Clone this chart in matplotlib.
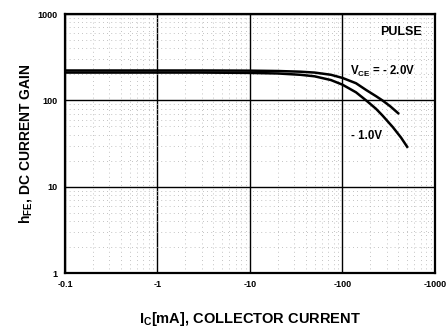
import matplotlib
matplotlib.use("Agg")
import matplotlib.pyplot as plt
import matplotlib.ticker as mticker

# ── data (|Ic| in mA, hFE) ────────────────────────────────────────────
ic_2v  = [0.1, 1, 3, 10, 20, 35, 50, 75, 100, 140, 180, 230, 270, 330, 400]
hfe_2v = [222, 222, 222, 221, 219, 215, 210, 198, 182, 158, 132, 112, 100, 85, 71]

ic_1v  = [0.1, 1, 3, 10, 20, 35, 50, 75, 100, 140, 180, 230, 270, 350, 430, 500]
hfe_1v = [210, 210, 210, 208, 205, 198, 190, 172, 152, 124, 100, 80, 67, 49, 37, 29]

xticks  = [0.1, 1, 10, 100, 1000]
xlabels = ["-0.1", "-1", "-10", "-100", "-1000"]
yticks  = [1, 10, 100, 1000]
ylabels = ["1", "10", "100", "1000"]

FONT = "Liberation Sans"
plt.rcParams["mathtext.fontset"] = "custom"
plt.rcParams["mathtext.rm"] = FONT + ":bold"
plt.rcParams["mathtext.bf"] = FONT + ":bold"

fig = plt.figure(figsize=(4.48, 3.27), dpi=100)
ax = fig.add_axes([0.145, 0.165, 0.826, 0.792])

ax.plot(ic_2v, hfe_2v, color="black", lw=1.8)
ax.plot(ic_1v, hfe_1v, color="black", lw=1.8)

ax.set_xscale("log")
ax.set_yscale("log")
ax.set_xlim(0.1, 1000)
ax.set_ylim(1, 1000)

ax.set_xticks(xticks)
ax.set_xticklabels(xlabels)
ax.set_yticks(yticks)
ax.set_yticklabels(ylabels)
ax.xaxis.set_minor_locator(mticker.LogLocator(base=10, subs=range(2, 10)))
ax.yaxis.set_minor_locator(mticker.LogLocator(base=10, subs=range(2, 10)))
ax.xaxis.set_minor_formatter(mticker.NullFormatter())
ax.yaxis.set_minor_formatter(mticker.NullFormatter())

ax.grid(which="major", color="black", lw=1.0)
ax.grid(which="minor", color="#b0b0b0", lw=0.6, linestyle=(0, (1, 4)))
ax.tick_params(which="both", length=0, pad=5)
for lab in ax.get_xticklabels() + ax.get_yticklabels():
    lab.set_fontfamily(FONT)
    lab.set_fontweight("bold")
    lab.set_fontsize(6.5)
for s in ax.spines.values():
    s.set_linewidth(1.6)

ax.text(0.965, 0.93, "PULSE", transform=ax.transAxes, ha="right", va="center",
        fontfamily=FONT, fontweight="bold", fontsize=9)
ax.text(122, 216, r"V$_{\mathregular{CE}}$ = - 2.0V", ha="left", va="center",
        fontfamily=FONT, fontweight="bold", fontsize=8.3)
ax.text(267, 39, "- 1.0V", ha="right", va="center",
        fontfamily=FONT, fontweight="bold", fontsize=8.3)

ax.set_xlabel(r"I$_{\mathregular{C}}$[mA], COLLECTOR CURRENT", fontfamily=FONT,
              fontweight="bold", fontsize=10.5, labelpad=15)
ax.set_ylabel(r"h$_{\mathregular{FE}}$, DC CURRENT GAIN", fontfamily=FONT,
              fontweight="bold", fontsize=10, labelpad=3)

fig.savefig("out.png", dpi=100)
